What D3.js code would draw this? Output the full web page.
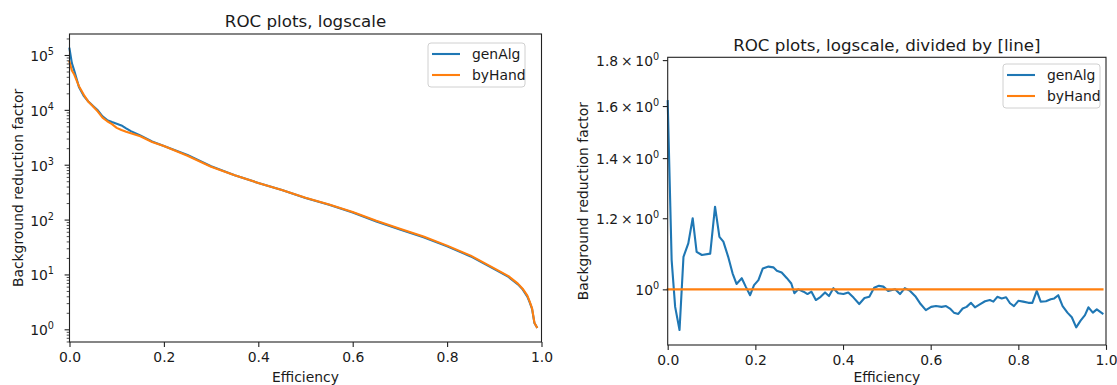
<!DOCTYPE html>
<html>
<head>
<meta charset="utf-8">
<script src="https://cdn.jsdelivr.net/npm/d3@7"></script>
<style>
  body { margin: 0; background: #fff; }
  text { font-family: "DejaVu Sans", sans-serif; fill: #1a1a1a; }
</style>
</head>
<body>
<svg id="chart" width="1117" height="385"></svg>
<script>
// ---- data ----
var effLeft = [0, 0.005, 0.01, 0.02, 0.03, 0.04, 0.05, 0.06, 0.07, 0.08, 0.09, 0.10, 0.11, 0.12, 0.13,
  0.15, 0.175, 0.2, 0.25, 0.3, 0.35, 0.4, 0.45, 0.5, 0.55, 0.6, 0.65, 0.7, 0.75, 0.8, 0.85, 0.9,
  0.93, 0.95, 0.96, 0.97, 0.975, 0.98, 0.985, 0.99];
var genAlgLeft = [1.3e5, 7.1e4, 5.2e4, 2.6e4, 1.8e4, 1.42e4, 1.17e4, 9.8e3, 7.6e3, 6.5e3, 6.0e3, 5.6e3, 5.2e3, 4.6e3, 4.1e3,
  3.4e3, 2.65e3, 2.2e3, 1.5e3, 940, 640, 465, 345, 248, 186, 135, 92, 66, 47.5, 32.5, 21.3, 12.5,
  9.0, 6.6, 5.35, 3.95, 3.1, 2.35, 1.3, 1.1];
var byHandLeft = [7.5e4, 5.2e4, 4.4e4, 2.7e4, 1.9e4, 1.4e4, 1.15e4, 9.3e3, 7.2e3, 6.2e3, 5.5e3, 4.7e3, 4.3e3, 4.0e3, 3.75e3,
  3.3e3, 2.6e3, 2.19e3, 1.46e3, 920, 640, 465, 346, 249, 188, 138, 95, 68, 49, 33.5, 22, 12.9,
  9.3, 6.8, 5.5, 4.1, 3.2, 2.4, 1.32, 1.1];

var effRatio = [0, 0.009, 0.017, 0.027, 0.036, 0.047, 0.057, 0.066, 0.078, 0.097, 0.108, 0.118, 0.127, 0.138,
  0.148, 0.157, 0.169, 0.178, 0.188, 0.197, 0.207, 0.217, 0.230, 0.241, 0.249, 0.26, 0.272, 0.282,
  0.289, 0.298, 0.31, 0.319, 0.328, 0.338, 0.349, 0.359, 0.368, 0.378, 0.389, 0.401, 0.412, 0.424,
  0.437, 0.449, 0.46, 0.471, 0.482, 0.492, 0.503, 0.519, 0.53, 0.541, 0.553, 0.566, 0.577, 0.589,
  0.601, 0.612, 0.625, 0.635, 0.644, 0.653, 0.663, 0.673, 0.682, 0.692, 0.701, 0.713, 0.724, 0.735,
  0.743, 0.752, 0.762, 0.772, 0.781, 0.79, 0.80, 0.811, 0.823, 0.832, 0.842, 0.851, 0.863, 0.874,
  0.882, 0.891, 0.901, 0.912, 0.922, 0.932, 0.942, 0.952, 0.96, 0.97, 0.979, 0.992];
var genAlgRatio = [1.62, 1.078, 0.956, 0.901, 1.087, 1.125, 1.2, 1.101, 1.092, 1.096, 1.236, 1.144, 1.13, 1.087,
  1.042, 1.014, 1.029, 1.007, 0.985, 1.011, 1.024, 1.055, 1.06, 1.058, 1.049, 1.044, 1.029, 1.015,
  0.99, 1.0, 0.994, 0.988, 0.994, 0.973, 0.981, 0.992, 0.983, 1.003, 0.990, 0.988, 0.992, 0.979,
  0.963, 0.978, 0.981, 1.004, 1.009, 1.007, 0.996, 1.0, 0.988, 1.003, 0.996, 0.981, 0.963, 0.948,
  0.956, 0.958, 0.956, 0.958, 0.952, 0.942, 0.939, 0.952, 0.956, 0.966, 0.955, 0.963, 0.970, 0.973,
  0.969, 0.981, 0.977, 0.98, 0.965, 0.958, 0.971, 0.969, 0.966, 0.966, 0.996, 0.969, 0.970, 0.975,
  0.977, 0.985, 0.958, 0.942, 0.931, 0.907, 0.923, 0.936, 0.955, 0.942, 0.950, 0.940];
var effByHandRatio = [0, 0.992];
var byHandRatio = [1, 1];

var seriesNames = ["genAlg", "byHand"];
var xTicks = [0, 0.2, 0.4, 0.6, 0.8, 1.0];
var leftMajorY = [1, 10, 100, 1e3, 1e4, 1e5];
var rightTicksY = [1, 1.2, 1.4, 1.6, 1.8];

// ---- look ----
var colors = ["#1f77b4", "#ff7f0e"];
var fs = 13.9; // 10pt at 100 dpi
var lw = 2.1;
var svg = d3.select("#chart");

var leftBox = {x0: 69.5, x1: 541.5, y0: 34, y1: 342};
var rightBox = {x0: 667.7, x1: 1106, y0: 57.3, y1: 345};

var xLeft = d3.scaleLinear().domain([0, 1]).range([leftBox.x0, leftBox.x1]);
var yLeft = d3.scaleLog().domain([0.587, 2.413e5]).range([leftBox.y1, leftBox.y0]);
var xRight = d3.scaleLinear().domain([0, 1]).range([rightBox.x0, rightBox.x1]);
var yRight = d3.scaleLog().domain([0.867, 1.813]).range([rightBox.y1, rightBox.y0]);

function zip(xs, ys) { return xs.map(function (x, i) { return [x, ys[i]]; }); }

function drawLine(xs, ys, xScale, yScale, color) {
  var line = d3.line().x(d => xScale(d[0])).y(d => yScale(d[1]));
  svg.append("path")
    .datum(zip(xs, ys))
    .attr("d", line)
    .attr("fill", "none")
    .attr("stroke", color)
    .attr("stroke-width", lw)
    .attr("stroke-linejoin", "round")
    .attr("stroke-linecap", "square");
}

function styleAxis(g) {
  g.select(".domain").remove();
  g.selectAll(".tick line").attr("stroke", "#222").attr("stroke-width", 1.1);
  g.selectAll(".tick text").attr("font-size", fs).attr("fill", "#1a1a1a").attr("font-family", "DejaVu Sans");
}

function drawXAxis(box, xScale) {
  var g = svg.append("g")
    .attr("transform", `translate(0, ${box.y1})`)
    .call(d3.axisBottom(xScale).tickValues(xTicks).tickFormat(d3.format(".1f"))
      .tickSize(4.9).tickPadding(4.9).tickSizeOuter(0));
  styleAxis(g);
}

function drawFrame(box) {
  svg.append("rect")
    .attr("x", box.x0).attr("y", box.y0)
    .attr("width", box.x1 - box.x0).attr("height", box.y1 - box.y0)
    .attr("fill", "none").attr("stroke", "#222").attr("stroke-width", 1.1);
}

function drawLegend(x, y) {
  svg.append("rect")
    .attr("x", x).attr("y", y).attr("width", 97).attr("height", 44)
    .attr("rx", 3).attr("fill", "#fff").attr("fill-opacity", 0.8)
    .attr("stroke", "#d0d0d0").attr("stroke-width", 1);
  seriesNames.forEach(function (name, i) {
    var cy = y + 11 + i * 21;
    svg.append("line")
      .attr("x1", x + 4).attr("x2", x + 32).attr("y1", cy).attr("y2", cy)
      .attr("stroke", colors[i]).attr("stroke-width", lw);
    svg.append("text")
      .attr("x", x + 44).attr("y", cy + 5)
      .attr("font-size", fs)
      .text(name);
  });
}

// ---- left panel: ROC on log scale ----
drawLine(effLeft, genAlgLeft, xLeft, yLeft, colors[0]);
drawLine(effLeft, byHandLeft, xLeft, yLeft, colors[1]);

var minorLeft = [];
for (var k = -1; k <= 5; k++) {
  for (var m = 2; m <= 9; m++) {
    var v = m * Math.pow(10, k);
    if (v > yLeft.domain()[0] && v < yLeft.domain()[1]) minorLeft.push(v);
  }
}
var gMinor = svg.append("g")
  .attr("transform", `translate(${leftBox.x0}, 0)`)
  .call(d3.axisLeft(yLeft).tickValues(minorLeft).tickFormat("").tickSize(2.8).tickSizeOuter(0));
styleAxis(gMinor);
gMinor.selectAll(".tick line").attr("stroke-width", 0.8);

var gLeftY = svg.append("g")
  .attr("transform", `translate(${leftBox.x0}, 0)`)
  .call(d3.axisLeft(yLeft).tickValues(leftMajorY).tickFormat("").tickSize(4.9).tickSizeOuter(0));
styleAxis(gLeftY);
gLeftY.selectAll(".tick text")
  .attr("x", -15.5).attr("dy", null).attr("y", 5.5)
  .attr("text-anchor", "end")
  .each(function (d) {
    var t = d3.select(this);
    t.append("tspan").text("10");
    t.append("tspan").attr("dy", -6).attr("font-size", 9.7).text(Math.round(Math.log10(d)));
  });

drawXAxis(leftBox, xLeft);
drawFrame(leftBox);
drawLegend(428, 43);

svg.append("text")
  .attr("x", (leftBox.x0 + leftBox.x1) / 2).attr("y", 27)
  .attr("text-anchor", "middle").attr("font-size", 16.7)
  .text("ROC plots, logscale");
svg.append("text")
  .attr("x", (leftBox.x0 + leftBox.x1) / 2).attr("y", 381.5)
  .attr("text-anchor", "middle").attr("font-size", fs)
  .text("Efficiency");
svg.append("text")
  .attr("transform", `translate(22.5, ${(leftBox.y0 + leftBox.y1) / 2}) rotate(-90)`)
  .attr("text-anchor", "middle").attr("font-size", fs)
  .text("Background reduction factor");

// ---- right panel: divided by the byHand line ----
drawLine(effRatio, genAlgRatio, xRight, yRight, colors[0]);
drawLine(effByHandRatio, byHandRatio, xRight, yRight, colors[1]);

var gRightY = svg.append("g")
  .attr("transform", `translate(${rightBox.x0}, 0)`)
  .call(d3.axisLeft(yRight).tickValues(rightTicksY).tickFormat("").tickSize(4.9).tickSizeOuter(0));
styleAxis(gRightY);
gRightY.selectAll(".tick text")
  .attr("x", -8.5).attr("dy", null).attr("y", 5.5)
  .attr("text-anchor", "end")
  .each(function (d) {
    var t = d3.select(this);
    if (d !== 1) t.append("tspan").text(d3.format(".1f")(d) + "\u2009\u00d7\u2009");
    t.append("tspan").text("10");
    t.append("tspan").attr("dy", -6).attr("font-size", 9.7).text("0");
  });

drawXAxis(rightBox, xRight);
drawFrame(rightBox);
drawLegend(1003, 64);

svg.append("text")
  .attr("x", (rightBox.x0 + rightBox.x1) / 2).attr("y", 50.5)
  .attr("text-anchor", "middle").attr("font-size", 16.7)
  .text("ROC plots, logscale, divided by [line]");
svg.append("text")
  .attr("x", (rightBox.x0 + rightBox.x1) / 2).attr("y", 381.5)
  .attr("text-anchor", "middle").attr("font-size", fs)
  .text("Efficiency");
svg.append("text")
  .attr("transform", `translate(587.5, ${(rightBox.y0 + rightBox.y1) / 2}) rotate(-90)`)
  .attr("text-anchor", "middle").attr("font-size", fs)
  .text("Background reduction factor");
</script>
</body>
</html>
